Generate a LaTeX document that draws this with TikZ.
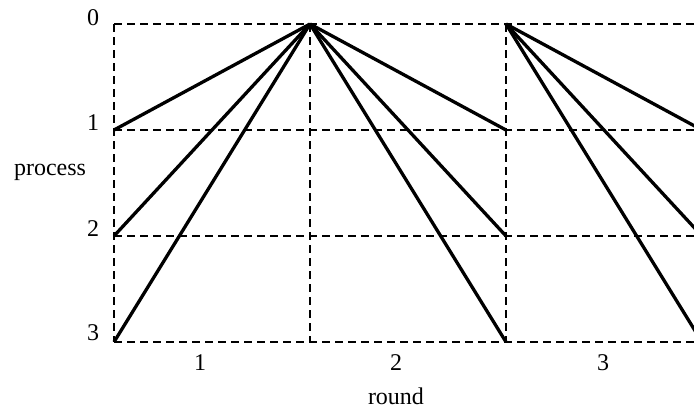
\documentclass[tikz,border=0pt]{standalone}
\usepackage{fontspec}
\setmainfont{Liberation Serif}
\begin{document}
\begin{tikzpicture}[
  x=1pt, y=-1pt,
  every node/.style={font=\fontsize{24}{28}\selectfont, inner sep=0pt},
  grid/.style={dash pattern=on 8pt off 5pt, line width=1.8pt},
  msg/.style={line width=3.3pt}
]
\useasboundingbox (0,0) rectangle (694,408);
\clip (0,0) rectangle (694,408);

% grid points: column c, process r
\foreach \c/\x in {0/114,1/310,2/506,3/702}
  \foreach \r/\y in {0/24,1/130,2/236,3/342}
    \coordinate (g\c\r) at (\x,\y);

% dashed grid
\foreach \r in {0,...,3} \draw[grid] (g0\r) -- (g3\r);
\foreach \c in {0,1,2} \draw[grid] (g\c0) -- (g\c3);

% process labels
\node (p0) at (93,18)  {0};
\node (p1) at (93,123) {1};
\node (p2) at (93,229) {2};
\node (p3) at (93,333) {3};
\node (proc) at (50,172) {process};

% round labels
\node (r1) at (200,363) {1};
\node (r2) at (396,363) {2};
\node (r3) at (603,363) {3};
\node (rnd) at (396,396) {round};

% messages
\foreach \r in {1,2,3} {
  \draw[msg] (g10) -- (g0\r);
  \draw[msg] (g10) -- (g2\r);
  \draw[msg] (g20) -- (g3\r);
}
\end{tikzpicture}
\end{document}
